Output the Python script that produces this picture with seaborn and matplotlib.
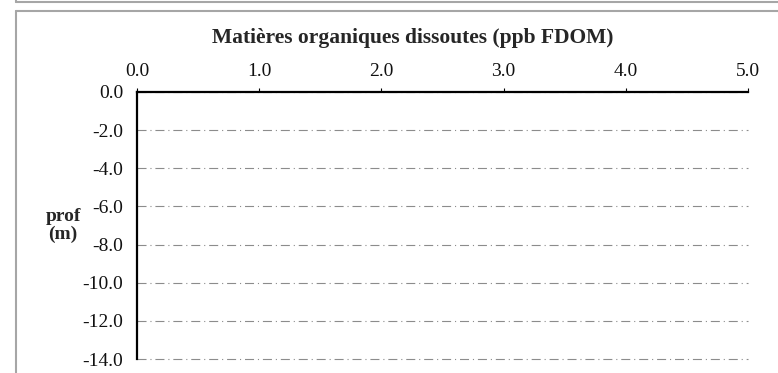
import matplotlib
matplotlib.use("Agg")
import matplotlib.pyplot as plt
from matplotlib.lines import Line2D
from matplotlib.ticker import FormatStrFormatter
import pandas as pd
import seaborn as sns

# Profile data (no measurements recorded at this station)
depth_m = []
fdom_ppb = []

x_ticks = [0.0, 1.0, 2.0, 3.0, 4.0, 5.0]
y_ticks = [0.0, -2.0, -4.0, -6.0, -8.0, -10.0, -12.0, -14.0]

title = "Matières organiques dissoutes (ppb FDOM)"
ylabel = "prof\n(m)"

sns.set_style("white")
plt.rcParams["font.family"] = ["Liberation Serif", "DejaVu Serif"]
plt.rcParams["lines.scale_dashes"] = False

W, H = 778, 373
fig = plt.figure(figsize=(W / 100, H / 100), dpi=100)
ax = fig.add_axes([137 / W, 1 - 359 / H, (748 - 137) / W, (359 - 92) / H])

df = pd.DataFrame({"fdom": pd.Series(fdom_ppb, dtype=float),
                   "depth": pd.Series(depth_m, dtype=float)})
if len(df):
    sns.lineplot(data=df, x="fdom", y="depth", sort=False, ax=ax, color="black")

ax.set_xlim(x_ticks[0], x_ticks[-1])
ax.set_ylim(y_ticks[-1], y_ticks[0])
ax.set_xticks(x_ticks)
ax.set_yticks(y_ticks)
ax.xaxis.set_major_formatter(FormatStrFormatter("%.1f"))
ax.yaxis.set_major_formatter(FormatStrFormatter("%.1f"))
ax.xaxis.tick_top()
ax.set_xlabel("")

for s in ["bottom", "right"]:
    ax.spines[s].set_visible(False)
for s in ["top", "left"]:
    ax.spines[s].set_visible(True)
    ax.spines[s].set_color("black")
    ax.spines[s].set_linewidth(1.6)

ax.tick_params(axis="x", direction="out", length=3, width=0.8, color="black",
               pad=6, labelsize=14, labelcolor="#111111")
ax.tick_params(axis="y", direction="in", length=3, width=0.8, color="black",
               pad=10, labelsize=14, labelcolor="#111111")

ax.yaxis.grid(True, color="#8c8c8c", linewidth=0.8,
              linestyle=(0, (6.5, 2.8, 0.8, 2.8)))
ax.xaxis.grid(False)
ax.set_axisbelow(True)
for gl in ax.yaxis.get_gridlines():
    gl.set_clip_on(False)

ax.set_ylabel(ylabel, rotation=0, fontsize=14, fontweight="bold",
              ha="center", va="center", linespacing=1.0)
ax.yaxis.set_label_coords((63 - 137) / (748 - 137), 0.5)

fig.text(413 / W, 1 - 38 / H, title, ha="center", va="center",
         fontsize=15.5, fontweight="bold")

# Surrounding frame of the report panel
frame = dict(color="#a6a6a6", linewidth=1.5, transform=fig.transFigure)
fig.add_artist(Line2D([16 / W, 1.0], [1 - 1.5 / H, 1 - 1.5 / H], **frame))
fig.add_artist(Line2D([16 / W, 1.0], [1 - 10.5 / H, 1 - 10.5 / H], **frame))
fig.add_artist(Line2D([16 / W, 16 / W], [1 - 10.5 / H, 0.0], **frame))
fig.add_artist(Line2D([16 / W, 16 / W], [1 - 1.5 / H, 1.0], **frame))

fig.savefig("out.png", dpi=100)
